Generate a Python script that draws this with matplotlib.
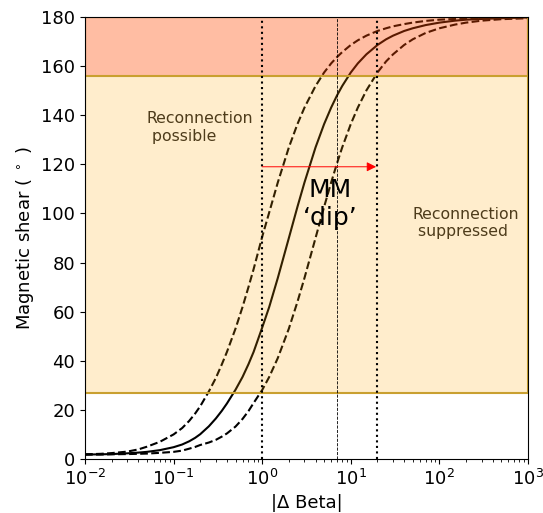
import numpy as np
import matplotlib
matplotlib.use("Agg")
import matplotlib.pyplot as plt

# |delta beta| sample points and magnetic shear (deg) for the three curves
dbeta = [0.01, 0.015, 0.02, 0.03, 0.04, 0.05, 0.07, 0.1, 0.125, 0.15, 0.175,
         0.2, 0.25, 0.3, 0.35, 0.4, 0.5, 0.6, 0.7, 0.8, 1, 1.2, 1.5, 2, 2.5,
         3, 4, 5, 6, 7, 8, 10, 12, 15, 20, 25, 30, 40, 50, 70, 100, 150, 200,
         300, 500, 1000]
shear_mid = [1.8, 1.9, 2.0, 2.3, 2.6, 2.9, 3.6, 4.8, 5.9, 7.2, 8.6,
             10.1, 13.3, 16.5, 19.6, 22.6, 28.2, 33.4, 38.6, 43.6, 53.5, 61.9,
             73.7, 90.0, 102.7, 112.6, 126.9, 136.4, 143.1, 148.1, 151.9,
             157.4, 161.1, 164.8, 168.6, 170.9, 172.4, 174.3, 175.4, 176.7,
             177.7, 178.5, 178.9, 179.2, 179.5, 179.8]
shear_hi = [1.9, 2.1, 2.4, 3.0, 3.9, 5.0, 7.0, 10.0, 12.6, 15.5, 18.5,
            21.5, 27.5, 33.0, 38.5, 43.6, 53.1, 61.9, 70.0, 77.3, 90.5, 100.4,
            112.6, 126.9, 136.4, 143.1, 151.9, 157.4, 161.1, 163.7, 165.7,
            168.6, 170.5, 172.4, 174.3, 175.4, 176.2, 177.1, 177.7, 178.4,
            178.9, 179.2, 179.4, 179.6, 179.8, 179.9]
shear_lo = [1.8, 1.8, 1.9, 2.0, 2.1, 2.2, 2.5, 2.9, 3.4, 4.2, 4.9,
            5.7, 6.7, 7.8, 9.1, 10.4, 13.2, 16.3, 19.5, 22.8, 28.1, 33.4,
            41.1, 53.1, 64.0, 73.7, 90.0, 102.7, 112.6, 120.5, 126.9,
            136.4, 143.1, 150.1, 157.4, 161.9, 164.8, 168.6, 170.9, 173.5,
            175.4, 176.9, 177.7, 178.5, 179.1, 179.5]

band_possible = (27, 180)
band_suppressed = (156, 180)
dip_lines = [1, 20]
dip_centre = 7
arrow_y = 119

fig = plt.figure(figsize=(5.43, 5.13), dpi=100)
ax = fig.add_axes([0.1565, 0.1053, 0.8159, 0.8616])

ax.plot(dbeta, shear_mid, color="k", lw=1.5, zorder=1)
ax.plot(dbeta, shear_hi, color="k", lw=1.5, ls="--", zorder=1)
ax.plot(dbeta, shear_lo, color="k", lw=1.5, ls="--", zorder=1)

ax.axhspan(*band_possible, facecolor=(1.0, 0.647, 0.0, 0.2),
           edgecolor="#c9a030", lw=1.5, zorder=2)
ax.axhspan(*band_suppressed, facecolor=(1.0, 0.0, 0.0, 0.2),
           edgecolor="#c9a030", lw=1.5, zorder=2)

for xv in dip_lines:
    ax.axvline(xv, color="k", ls=":", lw=1.5, zorder=3)
ax.axvline(dip_centre, color="k", ls="--", lw=0.6, zorder=3)

ax.annotate("", xy=(19.3, arrow_y), xytext=(1, arrow_y),
            arrowprops=dict(arrowstyle="-|>", color="red", lw=0.7,
                            mutation_scale=14, shrinkA=0, shrinkB=0),
            zorder=4)

ax.text(0.05, 135, "Reconnection\n possible", fontsize=11.3, color="#222222",
        ha="left", va="center", zorder=1.5)
ax.text(50, 96, "Reconnection\n suppressed", fontsize=11.3, color="#222222",
        ha="left", va="center", zorder=1.5)
ax.text(5.9, 104, "MM\n\u2018dip\u2019", fontsize=18, color="k",
        ha="center", va="center", zorder=5)

ax.set_xscale("log")
ax.set_xlim(1e-2, 1e3)
ax.set_ylim(0, 180)
ax.set_yticks(np.arange(0, 181, 20))
ax.tick_params(labelsize=13)
ax.set_xlabel("|\u0394 Beta|", fontsize=13)
ax.set_ylabel("Magnetic shear ( $^\\circ$ )", fontsize=13)

fig.savefig("out.png", dpi=100)
